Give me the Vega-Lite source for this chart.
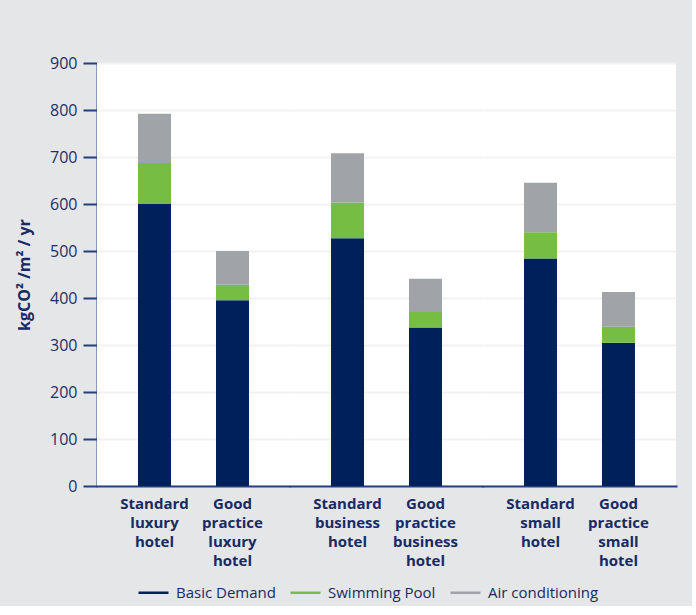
{
  "$schema": "https://vega.github.io/schema/vega-lite/v6.json",
  "background": "#e5e6e8",
  "padding": {"left": 16, "top": 55, "right": 16, "bottom": 5},
  "data": {
    "values": [
      {"group": "Luxury", "label": "Standard\nluxury\nhotel", "component": "Basic Demand", "o": 1, "value": 600},
      {"group": "Luxury", "label": "Standard\nluxury\nhotel", "component": "Swimming Pool", "o": 2, "value": 87},
      {"group": "Luxury", "label": "Standard\nluxury\nhotel", "component": "Air conditioning", "o": 3, "value": 105},
      {"group": "Luxury", "label": "Good\npractice\nluxury\nhotel", "component": "Basic Demand", "o": 1, "value": 395},
      {"group": "Luxury", "label": "Good\npractice\nluxury\nhotel", "component": "Swimming Pool", "o": 2, "value": 33},
      {"group": "Luxury", "label": "Good\npractice\nluxury\nhotel", "component": "Air conditioning", "o": 3, "value": 72},
      {"group": "Business", "label": "Standard\nbusiness\nhotel", "component": "Basic Demand", "o": 1, "value": 527},
      {"group": "Business", "label": "Standard\nbusiness\nhotel", "component": "Swimming Pool", "o": 2, "value": 76},
      {"group": "Business", "label": "Standard\nbusiness\nhotel", "component": "Air conditioning", "o": 3, "value": 105},
      {"group": "Business", "label": "Good\npractice\nbusiness\nhotel", "component": "Basic Demand", "o": 1, "value": 337},
      {"group": "Business", "label": "Good\npractice\nbusiness\nhotel", "component": "Swimming Pool", "o": 2, "value": 33},
      {"group": "Business", "label": "Good\npractice\nbusiness\nhotel", "component": "Air conditioning", "o": 3, "value": 71},
      {"group": "Small", "label": "Standard\nsmall\nhotel", "component": "Basic Demand", "o": 1, "value": 484},
      {"group": "Small", "label": "Standard\nsmall\nhotel", "component": "Swimming Pool", "o": 2, "value": 56},
      {"group": "Small", "label": "Standard\nsmall\nhotel", "component": "Air conditioning", "o": 3, "value": 105},
      {"group": "Small", "label": "Good\npractice\nsmall\nhotel", "component": "Basic Demand", "o": 1, "value": 305},
      {"group": "Small", "label": "Good\npractice\nsmall\nhotel", "component": "Swimming Pool", "o": 2, "value": 34},
      {"group": "Small", "label": "Good\npractice\nsmall\nhotel", "component": "Air conditioning", "o": 3, "value": 74}
    ]
  },
  "facet": {
    "column": {
      "field": "group",
      "type": "nominal",
      "sort": ["Luxury", "Business", "Small"],
      "header": {"title": null, "labels": false, "labelPadding": 0, "titlePadding": 0}
    }
  },
  "spacing": 0,
  "spec": {
    "width": 193,
    "height": 423,
    "view": {"fill": "white", "stroke": null},
    "mark": {"type": "bar", "width": 33},
    "encoding": {
      "x": {
        "field": "label",
        "type": "nominal",
        "sort": null,
        "scale": {"paddingInner": 0.577, "paddingOuter": 0.526},
        "axis": {
          "title": null,
          "labelAngle": 0,
          "ticks": false,
          "labelExpr": "split(datum.label, '\\n')",
          "labelFont": "Open Sans",
          "labelFontWeight": "bold",
          "labelFontSize": 15,
          "labelLineHeight": 19,
          "labelColor": "#172a63",
          "labelPadding": 10,
          "labelBaseline": "top",
          "domainColor": "#233f7c",
          "domainWidth": 2,
          "domainCap": "square",
          "grid": false
        }
      },
      "y": {
        "field": "value",
        "type": "quantitative",
        "stack": "zero",
        "scale": {"domain": [0, 900], "nice": false},
        "axis": {
          "title": "kgCO² /m² / yr",
          "titleFont": "Open Sans",
          "titleFontWeight": "bold",
          "titleFontSize": 16,
          "titleColor": "#172a63",
          "titlePadding": 17,
          "values": [0, 100, 200, 300, 400, 500, 600, 700, 800, 900],
          "labelFont": "Open Sans",
          "labelFontSize": 16,
          "labelColor": "#1c2f66",
          "labelPadding": 6,
          "tickSize": 14,
          "tickColor": "#233f7c",
          "tickWidth": 2,
          "domainColor": "#2d4a85",
          "domainWidth": 2,
          "gridColor": "#f1f1f2",
          "gridWidth": 2
        }
      },
      "color": {
        "field": "component",
        "type": "nominal",
        "sort": ["Basic Demand", "Swimming Pool", "Air conditioning"],
        "scale": {
          "domain": ["Basic Demand", "Swimming Pool", "Air conditioning"],
          "range": ["#00205b", "#76bd43", "#a0a3a7"]
        },
        "legend": {
          "title": null,
          "orient": "none",
          "direction": "horizontal",
          "legendX": 40,
          "legendY": 513,
          "padding": 0,
          "symbolType": "stroke",
          "symbolSize": 900,
          "symbolStrokeWidth": 2.5,
          "labelFont": "Open Sans",
          "labelFontSize": 15,
          "labelColor": "#172a63",
          "labelOffset": 6,
          "columnPadding": 9,
          "encode": {
            "symbols": {"update": {"stroke": {"scale": "color", "field": "value"}}}
          }
        }
      },
      "order": {"field": "o", "type": "quantitative"}
    }
  },
  "resolve": {"scale": {"x": "independent"}},
  "config": {"axis": {"gridColor": "#f1f1f2"}}
}
